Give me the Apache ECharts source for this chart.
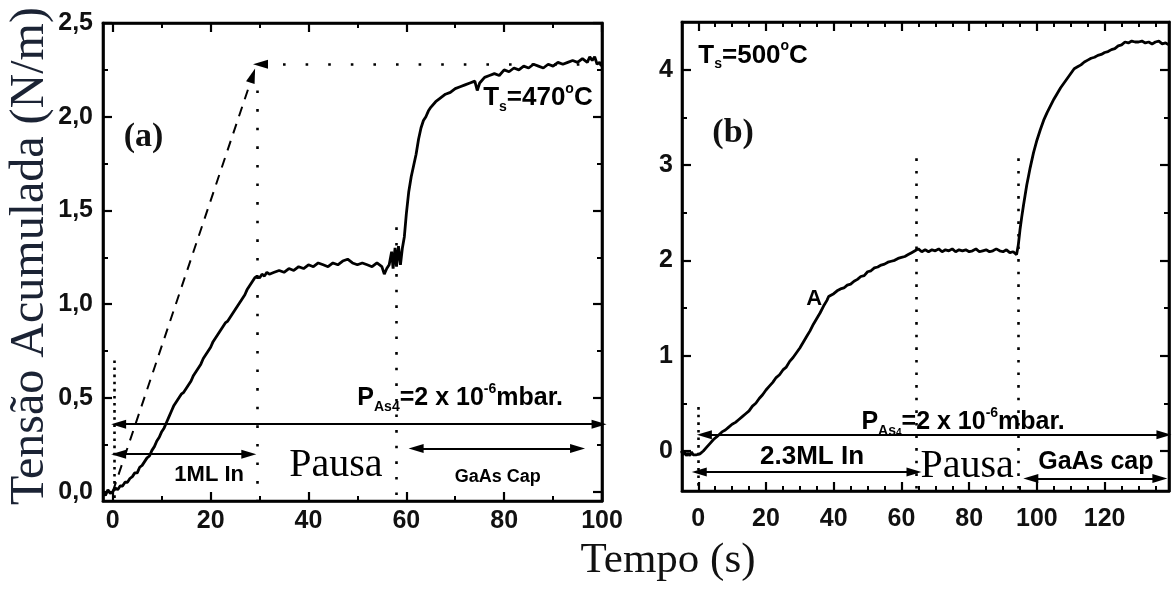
<!DOCTYPE html>
<html><head><meta charset="utf-8">
<script src="https://cdn.jsdelivr.net/npm/echarts/dist/echarts.min.js"></script>
<style>html,body{margin:0;padding:0;background:#fff}#c{width:1172px;height:590px}</style>
</head><body><div id="c"></div>
<script>
// ---------- Panel (a) data ----------
const aTime = [-2,-1.5,-1,-0.5,0,0.5,1,1.5,2,2.5,3,3.5,4,4.5,5,5.5,6,6.5,7,7.5,8,8.5,9,9.5,10,10.5,11,11.5,12,12.5,13,13.5,14,14.5,15,15.5,16,16.5,17,17.5,18,18.5,19,19.5,20,20.5,21,21.5,22,22.5,23,23.5,24,24.5,25,25.5,26,26.5,27,27.5,28,28.5,29,29.5,30,30.5,31,31.5,32,33,34,35,36,37,38,39,40,41,42,43,44,45,46,47,48,49,50,51,52,53,54,55,55.5,56,56.5,57,57.3,57.7,58,58.4,58.8,59.2,59.6,60,60.5,61,61.5,62,62.5,63,63.5,64,64.5,65,66,67,68,69,70,71,72,73,74,74.5,75,76,77,78,79,80,81,82,83,84,85,86,87,88,89,90,91,92,93,94,95,96,97,97.5,98,98.5,99,99.5,100];
const aStress = [0.00,-0.02,0.01,-0.01,0.00,0.02,0.01,0.03,0.03,0.05,0.05,0.07,0.08,0.10,0.10,0.13,0.14,0.16,0.18,0.19,0.22,0.24,0.27,0.29,0.32,0.34,0.37,0.40,0.43,0.46,0.48,0.50,0.52,0.53,0.55,0.57,0.59,0.62,0.64,0.66,0.68,0.71,0.73,0.75,0.77,0.80,0.82,0.84,0.86,0.88,0.90,0.91,0.93,0.95,0.97,0.99,1.01,1.03,1.05,1.08,1.10,1.12,1.14,1.15,1.14,1.16,1.15,1.17,1.16,1.17,1.18,1.17,1.19,1.18,1.20,1.19,1.21,1.20,1.22,1.21,1.20,1.22,1.21,1.23,1.24,1.22,1.21,1.22,1.21,1.20,1.22,1.20,1.16,1.19,1.21,1.28,1.19,1.30,1.20,1.31,1.21,1.30,1.36,1.48,1.60,1.68,1.74,1.80,1.88,1.94,1.98,2.00,2.03,2.05,2.08,2.10,2.12,2.13,2.15,2.16,2.17,2.18,2.19,2.14,2.18,2.21,2.22,2.23,2.22,2.25,2.24,2.26,2.25,2.27,2.26,2.28,2.27,2.26,2.28,2.27,2.29,2.28,2.29,2.30,2.29,2.31,2.29,2.32,2.30,2.32,2.28,2.29,2.27];
const aXTicks = [0,20,40,60,80,100];
const aXMinor = [10,30,50,70,90];
const aYTicks = [0,0.5,1,1.5,2,2.5];
const aYLabels = ['0,0','0,5','1,0','1,5','2,0','2,5'];
const aYMinor = [0.25,0.75,1.25,1.75,2.25];

// ---------- Panel (b) data ----------
const bTime = [-5,-4.5,-4,-3.5,-3,-2.5,-2,-1.5,-1,-0.5,0,0.5,1,1.5,2,2.5,3,3.5,4,4.5,5,5.5,6,7,8,9,10,11,12,13,14,15,16,17,18,19,20,21,22,23,24,25,26,27,28,29,30,31,32,33,34,35,36,37,38,38.5,39,40,41,42,43,44,45,46,47,48,49,50,51,52,53,54,55,56,57,58,59,60,61,62,63,64,65,66,67,68,69,70,71,72,73,74,75,76,77,78,79,80,81,82,83,84,85,86,87,88,89,90,91,92,93,94,94.5,95,95.5,96,96.5,97,97.5,98,99,100,101,102,103,104,105,106,107,108,109,110,111,112,113,114,115,116,117,118,119,120,121,122,123,124,125,126,127,128,129,130,131,132,133,134,135,136,137,138,139];
const bStress = [0.00,-0.04,-0.01,-0.05,-0.02,-0.05,-0.01,-0.04,-0.02,-0.04,-0.03,-0.03,-0.01,0.00,0.02,0.04,0.05,0.08,0.09,0.12,0.13,0.15,0.17,0.20,0.22,0.25,0.28,0.30,0.33,0.36,0.39,0.42,0.47,0.50,0.55,0.59,0.64,0.68,0.72,0.77,0.80,0.85,0.88,0.94,0.98,1.03,1.08,1.14,1.20,1.26,1.33,1.39,1.45,1.52,1.58,1.62,1.64,1.65,1.68,1.70,1.71,1.74,1.75,1.78,1.80,1.83,1.84,1.88,1.89,1.92,1.93,1.95,1.96,1.98,1.99,2.00,2.02,2.03,2.04,2.06,2.08,2.10,2.12,2.09,2.11,2.09,2.11,2.10,2.12,2.09,2.11,2.10,2.12,2.09,2.11,2.10,2.11,2.09,2.10,2.12,2.09,2.10,2.11,2.09,2.10,2.12,2.10,2.09,2.11,2.08,2.09,2.06,2.16,2.32,2.45,2.57,2.68,2.79,2.88,2.97,3.13,3.26,3.37,3.47,3.55,3.62,3.69,3.75,3.81,3.86,3.91,3.96,4.01,4.03,4.05,4.08,4.10,4.12,4.13,4.15,4.16,4.18,4.19,4.21,4.22,4.25,4.26,4.29,4.28,4.30,4.29,4.29,4.30,4.28,4.29,4.27,4.29,4.30,4.27,4.28,4.26];
const bXTicks = [0,20,40,60,80,100,120];
const bXMinor = [-5,5,10,15,25,30,35,45,50,55,65,70,75,85,90,95,105,110,115,125,130,135];
const bYTicks = [0,1,2,3,4];
const bYLabels = ['0','1','2','3','4'];
const bYMinor = [0.5,1.5,2.5,3.5];

const SANS = '"Liberation Sans", Arial, sans-serif';
const SERIF = '"Liberation Serif", "Times New Roman", serif';

function axisSet(dim, grid, min, max, major, minor, labelFn, margin) {
  const pos = dim === 'x' ? ['bottom', 'top'] : ['left', 'right'];
  const out = [];
  pos.forEach((p, i) => {
    const base = { type: 'value', gridIndex: grid, min: min, max: max, position: p, splitLine: { show: false } };
    out.push(Object.assign({}, base, {
      axisLine: { show: true, onZero: false, lineStyle: { color: '#000', width: 2.6 } },
      axisTick: { show: true, inside: true, length: 9, customValues: major, lineStyle: { color: '#000', width: 2.2 } },
      axisLabel: i === 0 ? { show: true, customValues: major, formatter: labelFn, margin: margin,
        color: '#111', fontFamily: SANS, fontWeight: 'bold', fontSize: 25 } : { show: false }
    }));
    out.push(Object.assign({}, base, {
      axisLine: { show: false, onZero: false },
      axisTick: { show: true, inside: true, length: 5, customValues: minor, lineStyle: { color: '#000', width: 2 } },
      axisLabel: { show: false }
    }));
  });
  return out;
}

const xAxes = [].concat(
  axisSet('x', 0, -2, 100, aXTicks, aXMinor, v => String(v), 8),
  axisSet('x', 1, -4.8, 139, bXTicks, bXMinor, v => String(v), 16)
);
const yAxes = [].concat(
  axisSet('y', 0, -0.05, 2.5, aYTicks, aYMinor, v => aYLabels[aYTicks.indexOf(v)], 10),
  axisSet('y', 1, -0.42, 4.5, bYTicks, bYMinor, v => bYLabels[bYTicks.indexOf(v)], 9)
);

function zip(xs, ys) { return xs.map((x, i) => [x, ys[i]]); }

function seg(x1, y1, x2, y2, s1, s2, style) {
  return [
    { coord: [x1, y1], symbol: s1, symbolSize: [9, 15] },
    { coord: [x2, y2], symbol: s2, symbolSize: [9, 15], lineStyle: style }
  ];
}
const dotA = (gap) => ({ color: '#000', width: 2.6, type: [2.6, gap] });
const solid = { color: '#000', width: 2, type: 'solid' };

// annotation text styles
const rich = {
  t: { fontFamily: SANS, fontWeight: 'bold', fontSize: 25, fill: '#000', lineHeight: 32 },
  ts: { fontFamily: SANS, fontWeight: 'bold', fontSize: 26, fill: '#000', lineHeight: 32 },
  sub: { fontFamily: SANS, fontWeight: 'bold', fontSize: 14, fill: '#000', lineHeight: 14, verticalAlign: 'bottom' },
  sub2: { fontFamily: SANS, fontWeight: 'bold', fontSize: 10, fill: '#000', lineHeight: 10, verticalAlign: 'bottom' },
  sup: { fontFamily: SANS, fontWeight: 'bold', fontSize: 14, fill: '#000', lineHeight: 14, verticalAlign: 'top' },
  s18: { fontFamily: SANS, fontWeight: 'bold', fontSize: 18, fill: '#000' },
  s22: { fontFamily: SANS, fontWeight: 'bold', fontSize: 22, fill: '#000' },
  s25: { fontFamily: SANS, fontWeight: 'bold', fontSize: 25, fill: '#000' },
  s26: { fontFamily: SANS, fontWeight: 'bold', fontSize: 26, fill: '#000' },
  pausa: { fontFamily: SERIF, fontSize: 40, fill: '#000' },
  panel: { fontFamily: SERIF, fontWeight: 'bold', fontSize: 34, fill: '#111' }
};
const aNotes = [
  [6.3, 1.89, '{panel|(a)}'],
  [86.9, 2.10, '{ts|T}{sub|s}{ts|=470}{sup|o}{ts|C}'],
  [71, 0.50, '{t|P}{sub|As4}{t|=2 x 10}{sup|-6}{t|mbar.}'],
  [19.7, 0.09, '{s22|1ML In}'],
  [45.6, 0.14, '{pausa|Pausa}'],
  [78.7, 0.08, '{s18|GaAs Cap}']
];
const bNotes = [
  [16.2, 4.15, '{ts|T}{sub|s}{ts|=500}{sup|o}{ts|C}'],
  [10.3, 3.33, '{panel|(b)}'],
  [34.2, 1.60, '{s22|A}'],
  [78.2, 0.30, '{t|P}{sub|As}{sub2|4}{t|=2 x 10}{sup|-6}{t|mbar.}'],
  [33.6, -0.06, '{s26|2.3ML In}'],
  [79.4, -0.16, '{pausa|Pausa}'],
  [117.4, -0.12, '{s25|GaAs cap}']
];

const option = {
  backgroundColor: '#fff',
  animation: false,
  grid: [
    { left: 103, top: 23, width: 499, height: 478, show: true, borderColor: '#000', borderWidth: 2.6, backgroundColor: 'transparent' },
    { left: 682, top: 22, width: 487, height: 469, show: true, borderColor: '#000', borderWidth: 2.6, backgroundColor: 'transparent' }
  ],
  xAxis: xAxes,
  yAxis: yAxes,
  series: [
    {
      type: 'line', xAxisIndex: 0, yAxisIndex: 0, data: zip(aTime, aStress), showSymbol: false, symbol: 'none',
      lineStyle: { color: '#000', width: 2.8 }, z: 3, silent: true,
      markLine: {
        silent: true, animation: false, label: { show: false }, symbol: ['none', 'none'], precision: 4,
        lineStyle: solid,
        data: [
          seg(0.2, 0.70, 0.2, -0.05, 'none', 'none', dotA(4.5)),
          seg(29.5, 2.14, 29.5, -0.05, 'none', 'none', dotA(16)),
          seg(58, 1.41, 58, -0.05, 'none', 'none', dotA(13)),
          seg(0, 0, 28.6, 2.22, 'none', 'triangle', { color: '#000', width: 2, type: [10, 8] }),
          seg(100, 2.28, 30.2, 2.28, 'none', 'triangle', dotA(20)),
          seg(1.2, 0.36, 99.4, 0.36, 'triangle', 'triangle', solid),
          seg(1.2, 0.20, 27.8, 0.20, 'triangle', 'triangle', solid),
          seg(62, 0.23, 95, 0.23, 'triangle', 'triangle', solid)
        ]
      }
    },
    {
      type: 'line', xAxisIndex: 4, yAxisIndex: 4, data: zip(bTime, bStress), showSymbol: false, symbol: 'none',
      lineStyle: { color: '#000', width: 2.8 }, z: 3, silent: true,
      markLine: {
        silent: true, animation: false, label: { show: false }, symbol: ['none', 'none'], precision: 4,
        lineStyle: solid,
        data: [
          seg(0, 0.46, 0, -0.42, 'none', 'none', dotA(5)),
          seg(64.3, 3.07, 64.3, -0.42, 'none', 'none', dotA(10)),
          seg(94.4, 3.07, 94.4, -0.42, 'none', 'none', dotA(10)),
          seg(1.8, 0.17, 137.5, 0.17, 'triangle', 'triangle', solid),
          seg(0.3, -0.22, 63.7, -0.22, 'triangle', 'triangle', solid),
          seg(98.2, -0.29, 136.3, -0.29, 'triangle', 'triangle', solid)
        ]
      }
    }
  ]
};

const chart = echarts.init(document.getElementById('c'), null, { renderer: 'canvas' });
chart.setOption(option);

// place annotations at data coordinates through the chart's own axes
function noteGraphics(grid, notes) {
  return notes.map(n => {
    const p = chart.convertToPixel({ xAxisIndex: grid * 4, yAxisIndex: grid * 4 }, [n[0], n[1]]);
    return { type: 'text', x: p[0], y: p[1], z: 10, silent: true,
      style: { text: n[2], rich: rich, align: 'center', verticalAlign: 'middle' } };
  });
}
chart.setOption({
  graphic: [
    { type: 'text', x: 30, y: 256, rotation: Math.PI / 2, silent: true,
      style: { text: 'Tensão Acumulada (N/m)', fontFamily: SERIF, fontSize: 48, fill: '#1b2334', align: 'center', verticalAlign: 'middle' } },
    { type: 'text', x: 668, y: 561, silent: true,
      style: { text: 'Tempo (s)', fontFamily: SERIF, fontSize: 43, fill: '#111', align: 'center', verticalAlign: 'middle' } }
  ].concat(noteGraphics(0, aNotes), noteGraphics(1, bNotes))
});
</script>
</body></html>
